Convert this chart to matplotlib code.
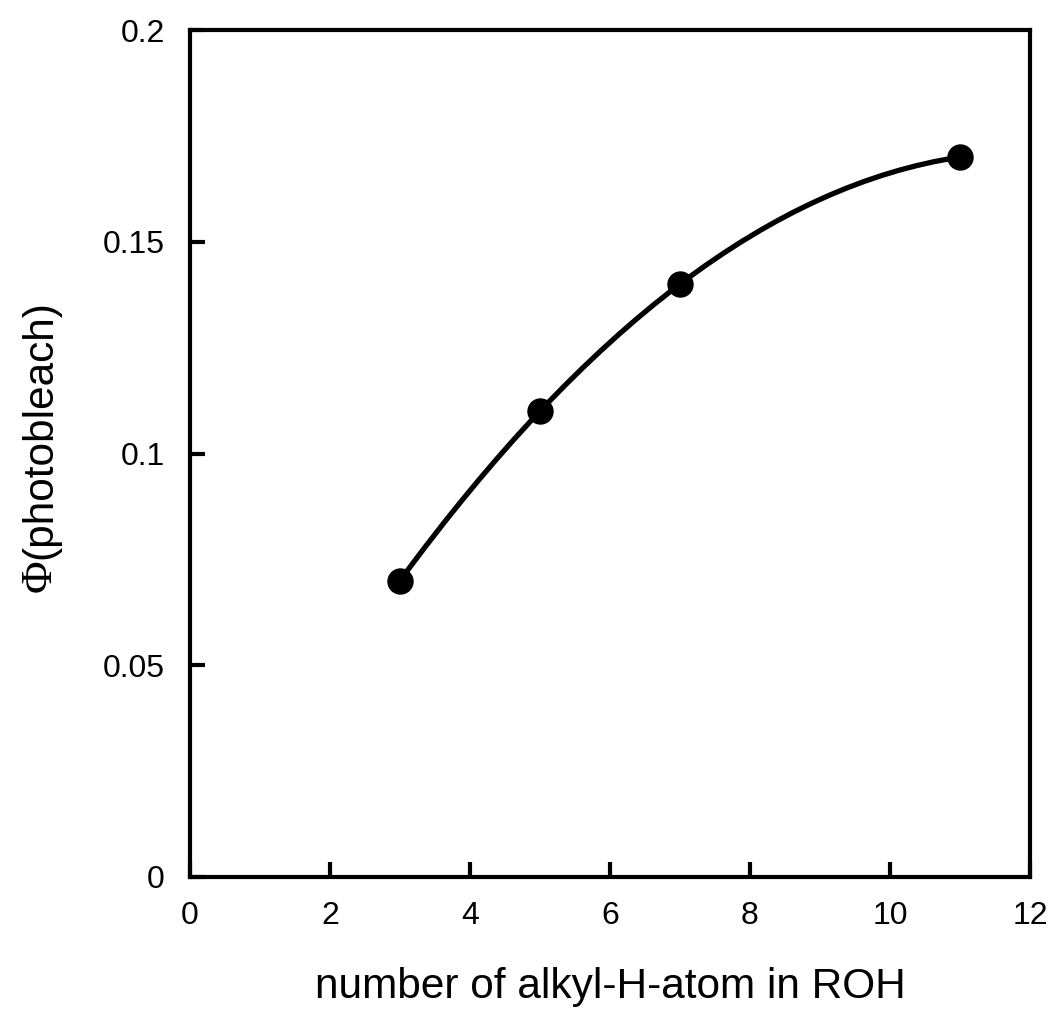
import matplotlib
matplotlib.use("Agg")
import matplotlib.pyplot as plt
from matplotlib.path import Path
from matplotlib.patches import PathPatch
import numpy as np

n_alkyl_h = [3, 5, 7, 11]
phi_photobleach = [0.07, 0.11, 0.14, 0.17]
x_ticks = [0, 2, 4, 6, 8, 10, 12]
y_ticks = [0, 0.05, 0.1, 0.15, 0.2]
y_tick_labels = ["0", "0.05", "0.1", "0.15", "0.2"]

plt.rcParams['font.family'] = ['Liberation Sans', 'DejaVu Sans']

fig = plt.figure(figsize=(10.56, 10.16), dpi=100)
ax = fig.add_axes([190/1056, 1-877/1016, 840/1056, 847/1016])
ax.set_xlim(0, 12)
ax.set_ylim(0, 0.2)

# smoothed line: cubic Hermite (Bezier) segments through the data points
xs = np.array(n_alkyl_h, float)
ys = np.array(phi_photobleach, float)
d = np.gradient(ys, xs, edge_order=2)
verts = [(xs[0], ys[0])]
codes = [Path.MOVETO]
for i in range(len(xs) - 1):
    h = xs[i+1] - xs[i]
    verts += [(xs[i] + h/3, ys[i] + d[i]*h/3),
              (xs[i+1] - h/3, ys[i+1] - d[i+1]*h/3),
              (xs[i+1], ys[i+1])]
    codes += [Path.CURVE4] * 3
ax.add_patch(PathPatch(Path(verts, codes), facecolor='none', edgecolor='black',
                       lw=3.8, capstyle='round', zorder=2))
ax.plot(n_alkyl_h, phi_photobleach, 'o', color='black', markersize=18, zorder=3)

for s in ax.spines.values():
    s.set_linewidth(3)
ax.set_xticks(x_ticks)
ax.set_yticks(y_ticks)
ax.set_yticklabels(y_tick_labels)
ax.tick_params(direction='in', length=11, width=3, labelsize=23)
ax.tick_params(axis='x', pad=17)
ax.tick_params(axis='y', pad=18)

ax.set_xlabel("number of alkyl-H-atom in ROH", fontsize=30.5, labelpad=26)
fig.text(40/1056, 1-559/1016, "(photobleach)", rotation=90, fontsize=30.5,
         ha='center', va='bottom')
fig.text(40/1056, 1-559/1016, "\u03a6", rotation=90, fontsize=32, ha='center', va='top',
         family=['Liberation Serif', 'DejaVu Serif'])

fig.savefig("out.png", dpi=100)
